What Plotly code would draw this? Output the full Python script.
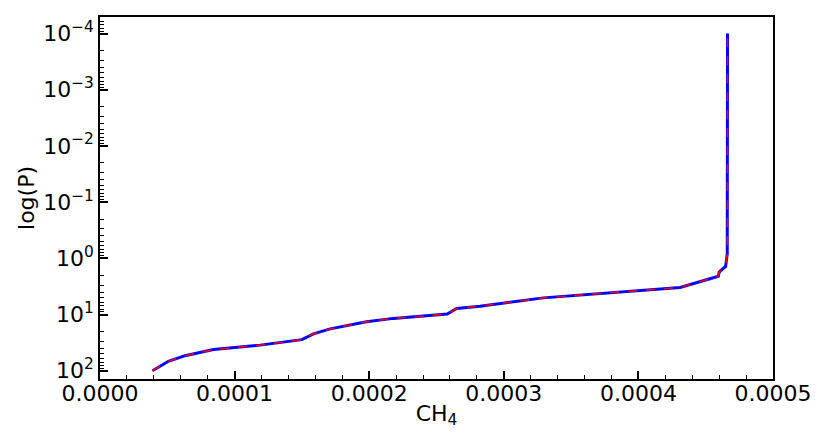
import numpy as np
import plotly.graph_objects as go

# CH4 mixing ratio vs pressure
ch4 = [3.9e-5, 5.08e-5, 6.32e-5, 8.43e-5, 1.19e-4, 1.5e-4, 1.586e-4, 1.71e-4,
       1.98e-4, 2.18e-4, 2.58e-4, 2.65e-4, 2.823e-4, 3.1e-4, 3.293e-4, 4.31e-4,
       4.594e-4, 4.60e-4, 4.648e-4, 4.66e-4, 4.662e-4, 4.662e-4]
pressure = [100, 68, 54, 42, 35, 28, 22, 18,
            13.4, 11.7, 9.8, 7.8, 7.1, 5.8, 5.05, 3.3,
            2.08, 1.75, 1.39, 0.83, 0.01, 1e-4]

y_tickvals = [1e-4, 1e-3, 1e-2, 1e-1, 1, 10, 100]
y_ticktext = ["10<sup>−4</sup>", "10<sup>−3</sup>", "10<sup>−2</sup>", "10<sup>−1</sup>",
              "10<sup>0</sup>", "10<sup>1</sup>", "10<sup>2</sup>"]

minor_y = [m * 10.0 ** e for e in range(-5, 3) for m in range(2, 10)]

fig = go.Figure()
fig.add_trace(go.Scatter(x=ch4, y=pressure, mode="lines",
                         line=dict(color="blue", width=3), showlegend=False))
fig.add_trace(go.Scatter(x=ch4, y=pressure, mode="lines",
                         line=dict(color="red", width=1.5, dash="dash"), showlegend=False))

font = dict(family="DejaVu Sans", size=22, color="black")
# page body has an 8px margin, so the figure is a bit smaller than the window
fig.update_layout(
    width=822, height=438,
    margin=dict(l=92, r=57, t=7, b=67),
    plot_bgcolor="white", paper_bgcolor="white",
    font=font,
)
fig.update_xaxes(
    range=[0, 0.0005], dtick=0.0001, tickformat=".4f", tickfont=font,
    ticklabelstandoff=-6,
    ticks="inside", ticklen=8, tickwidth=1.5, tickcolor="black",
    minor=dict(dtick=0.00002, ticks="inside", ticklen=4, tickwidth=1.2, tickcolor="black"),
    showline=True, linecolor="black", linewidth=1.5, mirror=True,
    showgrid=False, zeroline=False,
    title=dict(text="CH<sub>4</sub>", font=font, standoff=0),
)
fig.update_yaxes(
    type="log", range=[2.147, -4.295],
    tickvals=y_tickvals, ticktext=y_ticktext, tickfont=font,
    ticks="inside", ticklen=8, tickwidth=1.5, tickcolor="black",
    minor=dict(tickvals=minor_y, ticks="inside", ticklen=4, tickwidth=1.2, tickcolor="black"),
    showline=True, linecolor="black", linewidth=1.5, mirror=True,
    showgrid=False, zeroline=False,
    title=dict(text="log(P)", font=font, standoff=2),
)

fig.write_html("out.html")
